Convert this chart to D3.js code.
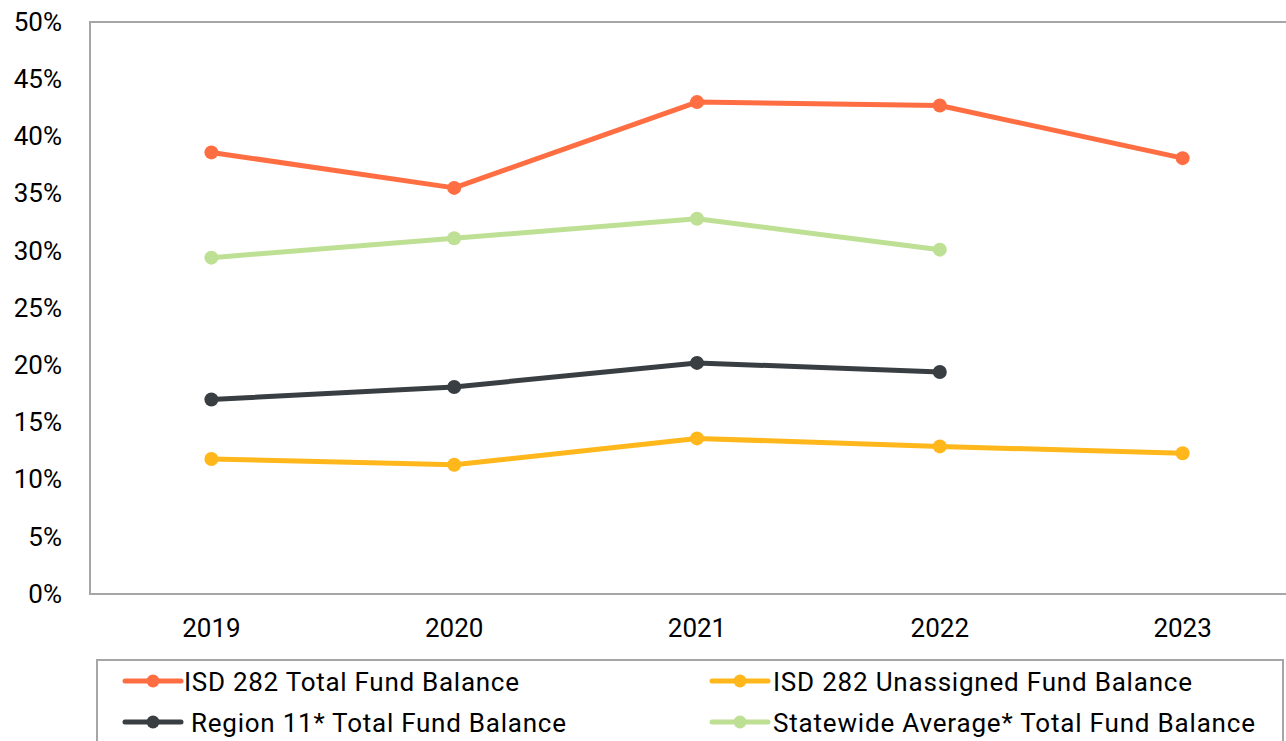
<!DOCTYPE html>
<html><head><meta charset="utf-8">
<script src="https://cdn.jsdelivr.net/npm/d3@7"></script>
<style>body{margin:0;background:#fff;overflow:hidden}text{font-family:Roboto,sans-serif;fill:#000}</style>
</head><body><svg id="c" width="1286" height="741"></svg>
<script>
const years = ["2019","2020","2021","2022","2023"];
const isdTotal = [0.386, 0.355, 0.430, 0.427, 0.381];
const isdUnassigned = [0.118, 0.113, 0.136, 0.129, 0.123];
const region11 = [0.170, 0.181, 0.202, 0.194, null];
const statewide = [0.294, 0.311, 0.328, 0.301, null];
const yTicks = [0,0.05,0.10,0.15,0.20,0.25,0.30,0.35,0.40,0.45,0.50];
const seriesNames = ["ISD 282 Total Fund Balance","ISD 282 Unassigned Fund Balance","Region 11* Total Fund Balance","Statewide Average* Total Fund Balance"];
const seriesColors = ["#FF6E42","#FFB71B","#393E42","#BEE095"];

const series = [
  {name:seriesNames[0], color:seriesColors[0], values:isdTotal},
  {name:seriesNames[1], color:seriesColors[1], values:isdUnassigned},
  {name:seriesNames[2], color:seriesColors[2], values:region11},
  {name:seriesNames[3], color:seriesColors[3], values:statewide}
];

const svg = d3.select("#c");
const L=90, R=1304, T=22, B=594;
const x = d3.scaleBand().domain(years).range([L,R]);
const y = d3.scaleLinear().domain([0,0.5]).range([B,T]);

svg.append("rect").attr("x",L).attr("y",T).attr("width",R-L).attr("height",B-T)
  .attr("fill","none").attr("stroke","#A6A6A6").attr("stroke-width",2);

const yAxis = svg.append("g").attr("transform",`translate(${L},0)`)
  .call(d3.axisLeft(y).tickValues(yTicks).tickFormat(d3.format(".0%")).tickSize(0).tickPadding(28));
yAxis.select(".domain").remove();
yAxis.selectAll("text").attr("font-size",26).attr("font-family","Roboto").attr("fill","#000");

const xAxis = svg.append("g").attr("transform",`translate(0,${B})`)
  .call(d3.axisBottom(x).tickSize(0).tickPadding(25));
xAxis.select(".domain").remove();
xAxis.selectAll("text").attr("font-size",26).attr("font-family","Roboto").attr("fill","#000");

const line = d3.line().x(d=>x(d.yr)+x.bandwidth()/2).y(d=>y(d.v));
series.forEach(s=>{
  const pts = years.map((yr,j)=>({yr, v:s.values[j]})).filter(d=>d.v!=null);
  svg.append("path").datum(pts).attr("d",line).attr("fill","none")
    .attr("stroke",s.color).attr("stroke-width",5).attr("stroke-linejoin","round");
  svg.append("g").selectAll("circle").data(pts).join("circle")
    .attr("cx",d=>x(d.yr)+x.bandwidth()/2).attr("cy",d=>y(d.v)).attr("r",7).attr("fill",s.color);
});

// legend
const lg = svg.append("g");
lg.append("rect").attr("x",97).attr("y",660).attr("width",1186).attr("height",100)
  .attr("fill","none").attr("stroke","#A6A6A6").attr("stroke-width",2);
const legendPos = [
  {i:0, mx:125, tx:184, yy:681, w:335},
  {i:1, mx:712, tx:773, yy:681, w:419},
  {i:2, mx:125, tx:191, yy:722, w:375},
  {i:3, mx:712, tx:773, yy:722, w:482}
];
legendPos.forEach(p=>{
  const s = series[p.i];
  lg.append("line").attr("x1",p.mx).attr("x2",p.mx+56).attr("y1",p.yy).attr("y2",p.yy)
    .attr("stroke",s.color).attr("stroke-width",5).attr("stroke-linecap","round");
  lg.append("circle").attr("cx",p.mx+28).attr("cy",p.yy).attr("r",6.5).attr("fill",s.color);
  lg.append("text").attr("x",p.tx).attr("y",p.yy+10).attr("font-size",26)
    .attr("textLength",p.w).attr("lengthAdjust","spacing").text(s.name);
});
</script></body></html>
